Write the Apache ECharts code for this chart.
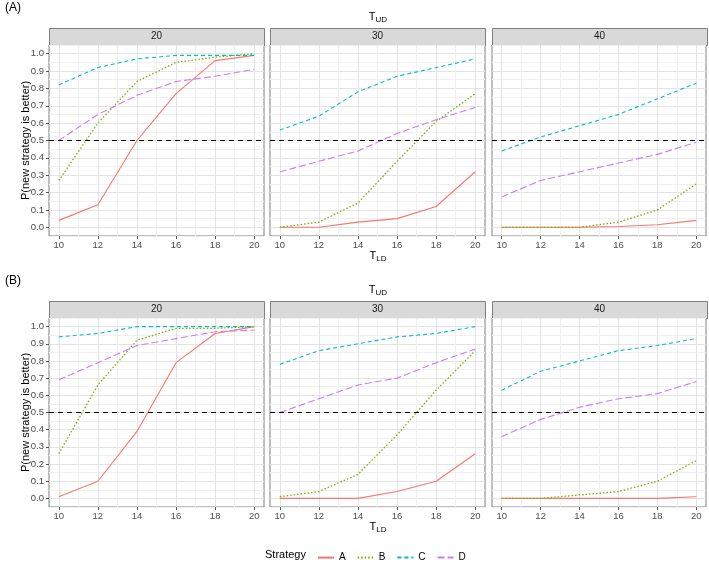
<!DOCTYPE html>
<html>
<head>
<meta charset="utf-8">
<script src="https://cdn.jsdelivr.net/npm/echarts@6/dist/echarts.min.js"></script>
<style>
  html, body { margin: 0; padding: 0; background: #fff; }
  #main { width: 709px; height: 563px; }
</style>
</head>
<body>
<div id="main"></div>
<script>
// x values (T_LD) and facet labels (T_UD)
var tld = [10, 12, 14, 16, 18, 20];
var tud = ['20', '30', '40'];
var strategies = ['A', 'B', 'C', 'D'];
var yTicks = [0, 0.1, 0.2, 0.3, 0.4, 0.5, 0.6, 0.7, 0.8, 0.9, 1.0];

// (A) rows: strategy A, B, C, D for each T_UD
var rowA_20 = [
    [0.04, 0.13, 0.50, 0.77, 0.96, 0.99],
    [0.27, 0.60, 0.84, 0.95, 0.98, 1.00],
    [0.82, 0.92, 0.97, 0.99, 0.99, 0.99],
    [0.50, 0.65, 0.76, 0.84, 0.87, 0.91]
];
var rowA_30 = [
    [0.00, 0.00, 0.03, 0.05, 0.12, 0.32],
    [0.00, 0.03, 0.14, 0.38, 0.61, 0.77],
    [0.56, 0.64, 0.78, 0.87, 0.92, 0.97],
    [0.32, 0.38, 0.44, 0.54, 0.62, 0.69]
];
var rowA_40 = [
    [0.00, 0.00, 0.00, 0.005, 0.015, 0.04],
    [0.00, 0.00, 0.00, 0.03, 0.10, 0.25],
    [0.44, 0.52, 0.585, 0.65, 0.74, 0.83],
    [0.175, 0.27, 0.32, 0.37, 0.42, 0.49]
];
// (B)
var rowB_20 = [
    [0.01, 0.10, 0.39, 0.79, 0.96, 1.00],
    [0.26, 0.66, 0.92, 0.99, 0.99, 1.00],
    [0.94, 0.96, 1.00, 1.00, 1.00, 1.00],
    [0.69, 0.79, 0.89, 0.93, 0.97, 0.98]
];
var rowB_30 = [
    [0.00, 0.00, 0.00, 0.04, 0.10, 0.26],
    [0.01, 0.04, 0.14, 0.37, 0.63, 0.86],
    [0.78, 0.86, 0.90, 0.94, 0.96, 1.00],
    [0.50, 0.58, 0.66, 0.70, 0.79, 0.87]
];
var rowB_40 = [
    [0.00, 0.00, 0.00, 0.00, 0.00, 0.01],
    [0.00, 0.00, 0.02, 0.04, 0.10, 0.22],
    [0.63, 0.74, 0.80, 0.86, 0.89, 0.93],
    [0.36, 0.46, 0.53, 0.58, 0.61, 0.68]
];
var panels = [rowA_20, rowA_30, rowA_40, rowB_20, rowB_30, rowB_40];

var colors = ['#F8766D', '#7CAE00', '#00BFC4', '#C77CFF'];
var dashes = ['solid', [1.5, 2], [4, 3], [7, 3]];
var font = "'Liberation Sans', Arial, sans-serif";

var panelLeft = [49, 270, 492];
var panelW = 215;
var rowTop = [45, 318];
var rowH = [191, 189];
var stripH = 17;

var chart = echarts.init(document.getElementById('main'));

var grids = [], xAxes = [], yAxes = [], series = [], graphics = [];
var hidden = { show: false };
var noLine = { show: false, onZero: false };

panels.forEach(function (panel, p) {
    var col = p % 3, row = Math.floor(p / 3);
    grids.push({
        left: panelLeft[col], top: rowTop[row], width: panelW, height: rowH[row],
        show: true, backgroundColor: '#fff', borderColor: '#7F7F7F', borderWidth: 1
    });
    xAxes.push({
        type: 'value', gridIndex: p, min: 9.5, max: 20.5, interval: 0.5, position: 'bottom',
        axisLine: noLine, axisTick: hidden,
        axisLabel: {
            color: '#4D4D4D', fontSize: 9.5, fontFamily: font, margin: 4,
            formatter: function (v) {
                var r = Math.round(v);
                return (Math.abs(v - r) < 1e-6 && r % 2 === 0) ? String(r) : '';
            }
        },
        splitLine: { show: true, lineStyle: { width: 1, color: ['rgba(0,0,0,0)', '#E3E3E3', 'rgba(0,0,0,0)', '#F0F0F0'] } }
    });
    yAxes.push({
        type: 'value', gridIndex: p, min: -0.05, max: 1.05, interval: 0.05, position: 'left',
        axisLine: noLine, axisTick: hidden,
        axisLabel: {
            show: col === 0, color: '#4D4D4D', fontSize: 9.5, fontFamily: font, margin: 5,
            formatter: function (v) {
                var k = Math.round(v * 100);
                return (k % 10 === 0 && k >= 0 && k <= 100) ? (k / 100).toFixed(1) : '';
            }
        },
        splitLine: { show: true, lineStyle: { width: 1, color: ['#F0F0F0', '#E3E3E3'] } }
    });
    panel.forEach(function (vals, s) {
        var ser = {
            type: 'line', name: strategies[s], xAxisIndex: p, yAxisIndex: p,
            data: tld.map(function (x, i) { return [x, vals[i]]; }),
            symbol: 'none', color: colors[s],
            lineStyle: { color: colors[s], width: s === 1 ? 1.3 : 1.1, type: dashes[s] },
            z: 3
        };
        if (s === 0) {
            ser.markLine = {
                silent: true, symbol: 'none', label: { show: false },
                lineStyle: { color: '#000', width: 1.1, type: [5, 4] },
                data: [{ yAxis: 0.5 }]
            };
        }
        series.push(ser);
    });
    // facet strip
    graphics.push({
        type: 'rect', left: panelLeft[col], top: rowTop[row] - stripH,
        shape: { width: panelW, height: stripH },
        style: { fill: '#D9D9D9', stroke: '#7F7F7F', lineWidth: 1 }
    });
    graphics.push({
        type: 'text', x: panelLeft[col] + panelW / 2, y: rowTop[row] - stripH / 2,
        style: { text: tud[col], fill: '#1A1A1A', font: '10px ' + font, align: 'center', verticalAlign: 'middle' }
    });
});

// tick-only axes (ticks at the labelled values only)
panels.forEach(function (panel, p) {
    var col = p % 3;
    xAxes.push({
        type: 'value', gridIndex: p, min: 9.5, max: 20.5, position: 'bottom',
        axisLine: noLine, axisLabel: hidden, splitLine: hidden,
        axisTick: { show: true, length: 3, customValues: tld, lineStyle: { color: '#555', width: 1 } }
    });
    yAxes.push({
        type: 'value', gridIndex: p, min: -0.05, max: 1.05, position: 'left',
        axisLine: noLine, axisLabel: hidden, splitLine: hidden,
        axisTick: { show: col === 0, length: 3, customValues: yTicks, lineStyle: { color: '#555', width: 1 } }
    });
});

var subRich = { s: { fontSize: 8, fontFamily: font, padding: [6, 0, 0, 0], fill: '#000' } };
[0, 1].forEach(function (row) {
    var top = rowTop[row];
    graphics.push({
        type: 'text', x: 5, y: top - 37,
        style: { text: row === 0 ? '(A)' : '(B)', fill: '#000', font: '12px ' + font, verticalAlign: 'middle' }
    });
    graphics.push({
        type: 'text', x: 378, y: top - 28,
        style: { text: 'T{s|UD}', rich: subRich, fill: '#000', font: '11px ' + font, align: 'center', verticalAlign: 'middle' }
    });
    graphics.push({
        type: 'text', x: 378, y: top + rowH[row] + 20,
        style: { text: 'T{s|LD}', rich: subRich, fill: '#000', font: '11px ' + font, align: 'center', verticalAlign: 'middle' }
    });
    graphics.push({
        type: 'text', x: 26, y: top + rowH[row] / 2, rotation: Math.PI / 2,
        style: { text: 'P(new strategy is better)', fill: '#000', font: '11px ' + font, align: 'center', verticalAlign: 'middle' }
    });
});
graphics.push({
    type: 'text', x: 265, y: 555,
    style: { text: 'Strategy', fill: '#000', font: '11px ' + font, verticalAlign: 'middle' }
});

chart.setOption({
    animation: false,
    backgroundColor: '#fff',
    grid: grids,
    xAxis: xAxes,
    yAxis: yAxes,
    series: series,
    graphic: graphics,
    legend: {
        data: strategies, left: 312, top: 547, itemWidth: 16, itemHeight: 14, itemGap: 11,
        itemStyle: { opacity: 0 },
        textStyle: { color: '#000', fontSize: 10, fontFamily: font }
    }
});
</script>
</body>
</html>
